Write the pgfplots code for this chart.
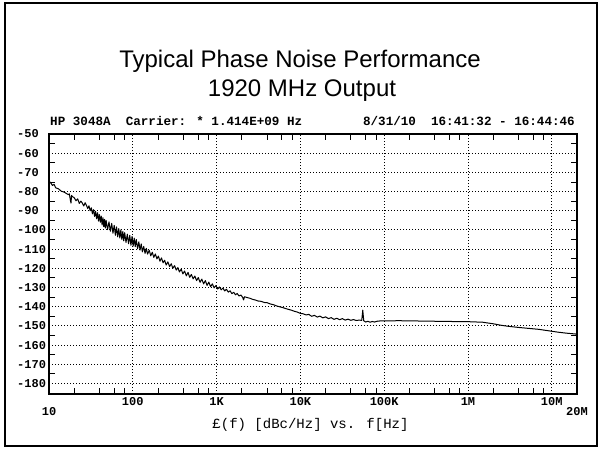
\documentclass[border=0pt]{standalone}
\usepackage{fontspec}
\setmainfont{Liberation Sans}
\newfontfamily\hpmono{Liberation Mono}
\usepackage{pgfplots}
\pgfplotsset{compat=1.18}
\pgfplotstableread{
f db
10 -74.5
10.5 -75.5
11 -76.8
11.5 -76.2
12 -78.0
13 -78.6
14 -79.8
15 -80.2
16 -80.9
17 -81.6
17.5 -81.2
18 -84.5
18.3 -86.0
18.6 -82.0
19 -82.6
20 -83.2
21 -84.8
22 -83.8
23 -86.2
24 -85.0
25 -86.0
26 -87.5
27 -85.8
28 -87.2
29 -88.9
30 -87.4
31 -90.0
32 -88.5
33 -91.6
34 -89.4
35 -93.0
36 -90.3
37 -94.2
38 -91.0
39 -95.4
40 -92.0
41 -96.0
42 -92.8
43 -97.4
44 -93.6
45 -98.3
46 -94.5
47 -99.0
48 -95.0
50 -99.8
52 -95.8
54 -100.7
56 -96.6
58 -101.7
60 -97.6
62 -102.8
64 -98.4
66 -103.6
68 -99.3
70 -104.2
72 -100.0
74 -105.0
76 -100.8
78 -105.7
80 -101.4
83 -106.5
86 -102.2
89 -107.2
92 -102.8
95 -108.0
98 -103.4
101 -108.4
104 -104.3
107 -108.7
110 -105.0
114 -109.8
118 -106.2
122 -110.5
126 -107.3
130 -111.4
135 -108.6
140 -112.2
145 -109.6
150 -112.6
157 -110.6
164 -113.5
171 -111.6
178 -114.3
186 -112.5
194 -115.1
202 -113.6
211 -116.3
220 -114.6
230 -117.1
240 -115.8
250 -118.3
262 -116.6
275 -119.1
288 -117.6
300 -120.0
315 -118.6
330 -120.9
345 -119.6
360 -121.9
378 -120.4
396 -122.9
415 -121.4
435 -123.9
456 -122.1
478 -124.7
500 -123.2
525 -125.5
550 -124.0
577 -126.4
605 -124.8
635 -127.3
666 -125.6
700 -128.1
735 -126.4
770 -128.9
808 -127.2
848 -129.6
890 -128.1
934 -130.2
980 -129.0
1030 -130.8
1080 -129.7
1135 -131.2
1190 -130.3
1250 -131.8
1310 -130.9
1380 -132.4
1450 -131.7
1520 -133.2
1600 -132.5
1680 -133.8
1760 -133.1
1850 -134.4
1950 -133.9
2050 -135.2
2100 -136.5
2150 -134.8
2300 -135.2
2500 -135.6
2700 -136.2
2900 -136.5
3100 -137.0
3400 -137.2
3700 -137.8
4000 -137.9
4400 -138.6
4800 -139.0
5200 -139.6
5600 -140.0
6100 -140.4
6600 -140.9
7200 -141.4
7800 -141.8
8500 -142.4
9200 -142.8
10000 -143.5
10800 -143.7
11700 -144.3
12600 -144.0
13600 -145.0
14700 -144.5
15900 -145.4
17100 -144.9
18500 -145.8
20000 -145.3
21600 -146.2
23300 -145.7
25200 -146.6
27200 -146.0
29400 -146.8
31700 -146.2
34200 -147.0
37000 -146.5
40000 -147.1
43000 -146.7
46500 -147.2
50000 -147.0
54000 -147.1
55500 -141.8
57000 -147.3
60000 -148.0
64000 -147.6
68000 -148.1
72000 -147.7
77000 -148.0
82000 -147.6
90000 -147.4
100000 -147.4
150000 -147.3
300000 -147.5
600000 -147.7
1000000 -147.8
1500000 -148.1
2000000 -148.9
2500000 -149.7
3000000 -150.2
4000000 -150.8
5000000 -151.2
7000000 -151.8
10000000 -152.8
12000000 -153.3
15000000 -153.8
20000000 -154.3
}\noisedata
\begin{document}
\begin{tikzpicture}[x=1pt,y=1pt]
\useasboundingbox (0,0) rectangle (600,-448);
\draw[line width=1.6pt] (5,-3) rectangle (597,-446);
\node[font=\fontsize{24}{28}\selectfont, anchor=base] at (300,-67) {Typical Phase Noise Performance};
\node[font=\fontsize{24}{28}\selectfont, anchor=base] at (302,-96) {1920 MHz Output};
\node[font=\hpmono\bfseries\fontsize{12.6}{14}\selectfont, anchor=base west, inner sep=0pt] at (50,-125) {HP 3048A\ \ Carrier: * 1.414E+09 Hz};
\node[font=\hpmono\bfseries\fontsize{12.6}{14}\selectfont, anchor=base east, inner sep=0pt] at (575,-125) {8/31/10\ \ 16:41:32 - 16:44:46};
\node[font=\hpmono\fontsize{14}{16}\selectfont, anchor=base, inner sep=0pt] at (310.5,-428) {£(f) [dBc/Hz] vs. f[Hz]};
\begin{axis}[
  at={(49pt,-394pt)}, anchor=south west,
  scale only axis, width=528pt, height=260pt,
  xmode=log, log basis x=10,
  xmin=10, xmax=2e7, ymin=-185.5, ymax=-50,
  xtick={100,1000,10000,100000,1000000,10000000},
  xticklabels={100,1K,10K,100K,1M,10M},
  extra x ticks={10,20000000},
  extra x tick labels={10,20M},
  extra x tick style={grid=none, xticklabel style={yshift=-10pt}},
  minor xtick={20,40,60,80,200,400,600,800,2000,4000,6000,8000,20000,40000,60000,80000,200000,400000,600000,800000,2000000,4000000,6000000,8000000},
  ytick={-180,-170,-160,-150,-140,-130,-120,-110,-100,-90,-80,-70,-60,-50},
  yticklabels={-180,-170,-160,-150,-140,-130,-120,-110,-100,-90,-80,-70,-60,-50},
  minor ytick={-185,-175,-165,-155,-145,-135,-125,-115,-105,-95,-85,-75,-65,-55},
  xmajorgrids, ymajorgrids,
  major grid style={black, line width=0.9pt, dash pattern=on 1pt off 2pt},
  major tick length=0pt, minor tick length=6pt, tick align=inside,
  tick style={black, line width=0.9pt},
  axis line style={black, line width=1.4pt},
  xticklabel style={font=\hpmono\bfseries\fontsize{12}{14}\selectfont, anchor=north, inner sep=0pt, yshift=-3pt},
  yticklabel style={font=\hpmono\bfseries\fontsize{12}{14}\selectfont, anchor=west, inner sep=0pt, xshift=-32pt},
]
\addplot[black, line width=1pt, line join=round, mark=none] table[x=f, y=db] {\noisedata};
\end{axis}
\end{tikzpicture}
\end{document}
